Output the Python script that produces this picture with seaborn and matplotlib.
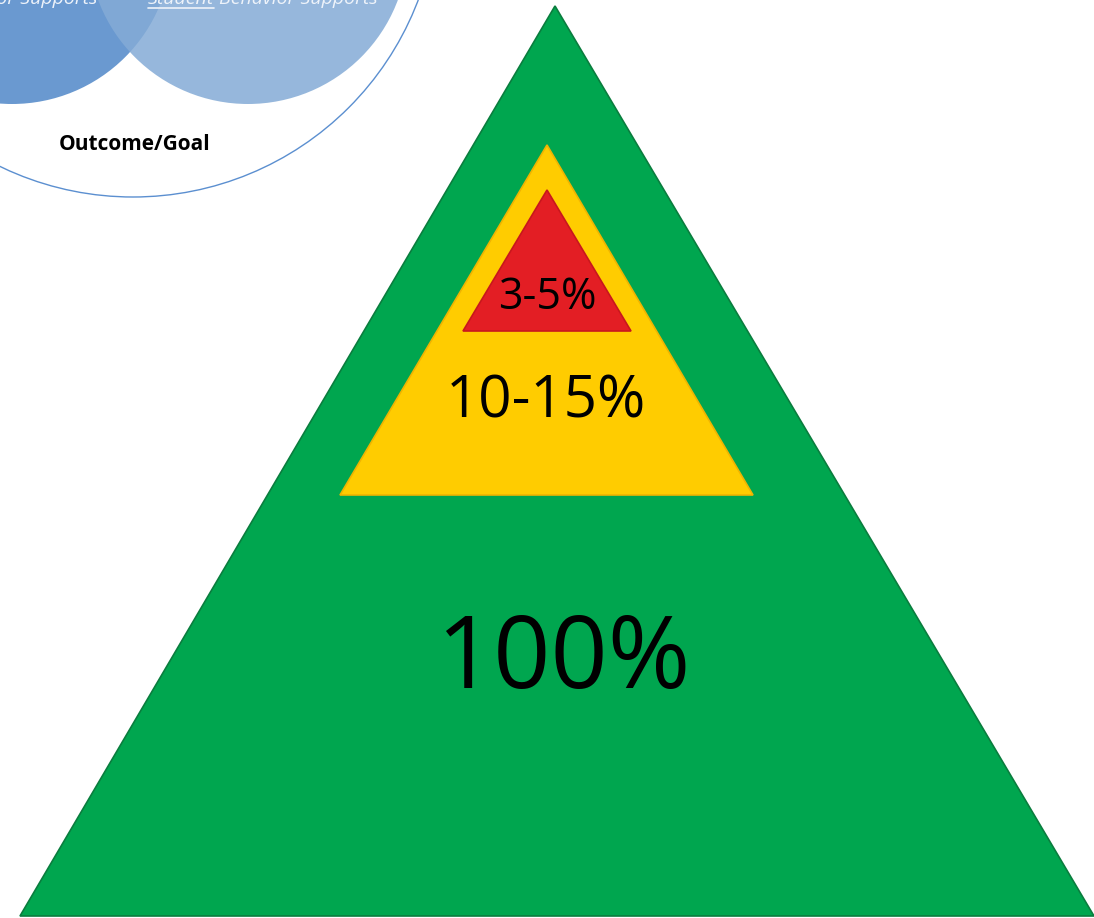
#!/usr/bin/env python3
"""Tiered support pyramid (100% / 10-15% / 3-5%) with a cropped Venn header."""

import matplotlib

matplotlib.use("Agg")
import matplotlib.pyplot as plt
from matplotlib.patches import Circle, Polygon
import seaborn as sns

# tier labels, bottom to top
TIER_LABELS = ["100%", "10-15%", "3-5%"]
TIER_COLORS = ["#00a64f", "#ffcc00", "#e31e24"]
TIER_EDGES = ["#0a7d3e", "#f0b400", "#c8171d"]

# pyramid geometry in pixel space (apex x, apex y, base y, base left, base right)
TIER_APEX_X = [555, 547, 547]
TIER_APEX_Y = [6, 145, 190]
TIER_BASE_Y = [916, 495, 331]
TIER_BASE_L = [20, 340, 463]
TIER_BASE_R = [1094, 753, 631]
LABEL_X = [563, 546, 547]
LABEL_Y = [662, 402, 298]
LABEL_SIZE = [72, 42, 31]

# venn header (cut off at the top of the image)
VENN_TEXT_LEFT = "Adult Behavior Supports"
VENN_TEXT_RIGHT = ("Student", "Behavior Supports")
VENN_GOAL = "Outcome/Goal"

W, H = 1094, 918
FONT = ["Open Sans", "DejaVu Sans"]
VENN_TXT = "#eef3fa"


def draw_venn(fig, ax):
    outer = Circle((133, -108), 305, facecolor="none", edgecolor="#5b8fd0",
                   linewidth=1.0, zorder=1)
    ax.add_patch(outer)
    left = Circle((12, -56), 160, facecolor="#5a8ecb", edgecolor="none",
                  alpha=0.9, zorder=2)
    right = Circle((248, -56), 160, facecolor="#84abd6", edgecolor="none",
                   alpha=0.85, zorder=3)
    ax.add_patch(left)
    ax.add_patch(right)

    ax.text(97, -1, VENN_TEXT_LEFT, ha="right", va="center", fontsize=14,
            style="italic", color=VENN_TXT, family=FONT, zorder=4)
    t = ax.text(148, -1, VENN_TEXT_RIGHT[0], ha="left", va="center",
                fontsize=14, style="italic", color=VENN_TXT, family=FONT,
                zorder=4)
    # underline the first word, then continue the phrase after it
    renderer = fig.canvas.get_renderer()
    bb = t.get_window_extent(renderer=renderer)
    x1 = ax.transData.inverted().transform((bb.x1, bb.y0))[0]
    ax.plot([148, x1], [8, 8], color=VENN_TXT, linewidth=1.2, zorder=4)
    ax.text(x1 + 5, -1, VENN_TEXT_RIGHT[1], ha="left", va="center",
            fontsize=14, style="italic", color=VENN_TXT, family=FONT,
            zorder=4)
    ax.text(135, 144, VENN_GOAL, ha="center", va="center", fontsize=15,
            fontweight="bold", color="black", family=FONT, zorder=4)


def draw_pyramid(ax):
    for i, label in enumerate(TIER_LABELS):
        pts = [
            (TIER_APEX_X[i], TIER_APEX_Y[i]),
            (TIER_BASE_R[i], TIER_BASE_Y[i]),
            (TIER_BASE_L[i], TIER_BASE_Y[i]),
        ]
        tri = Polygon(pts, closed=True, facecolor=TIER_COLORS[i],
                      edgecolor=TIER_EDGES[i], linewidth=1.2, zorder=10 + i)
        ax.add_patch(tri)
        ax.text(LABEL_X[i], LABEL_Y[i], label, ha="center", va="center",
                fontsize=LABEL_SIZE[i], color="black", family=FONT,
                zorder=20 + i)


def main():
    sns.set_theme(style="white")
    plt.rcParams["font.family"] = FONT

    fig = plt.figure(figsize=(W / 100, H / 100), dpi=100)
    ax = fig.add_axes([0, 0, 1, 1])
    ax.set_xlim(0, W)
    ax.set_ylim(H, 0)
    ax.set_axis_off()

    draw_venn(fig, ax)
    draw_pyramid(ax)
    sns.despine(ax=ax, left=True, bottom=True)

    fig.savefig("out.png", dpi=100, facecolor="white")


if __name__ == "__main__":
    main()
